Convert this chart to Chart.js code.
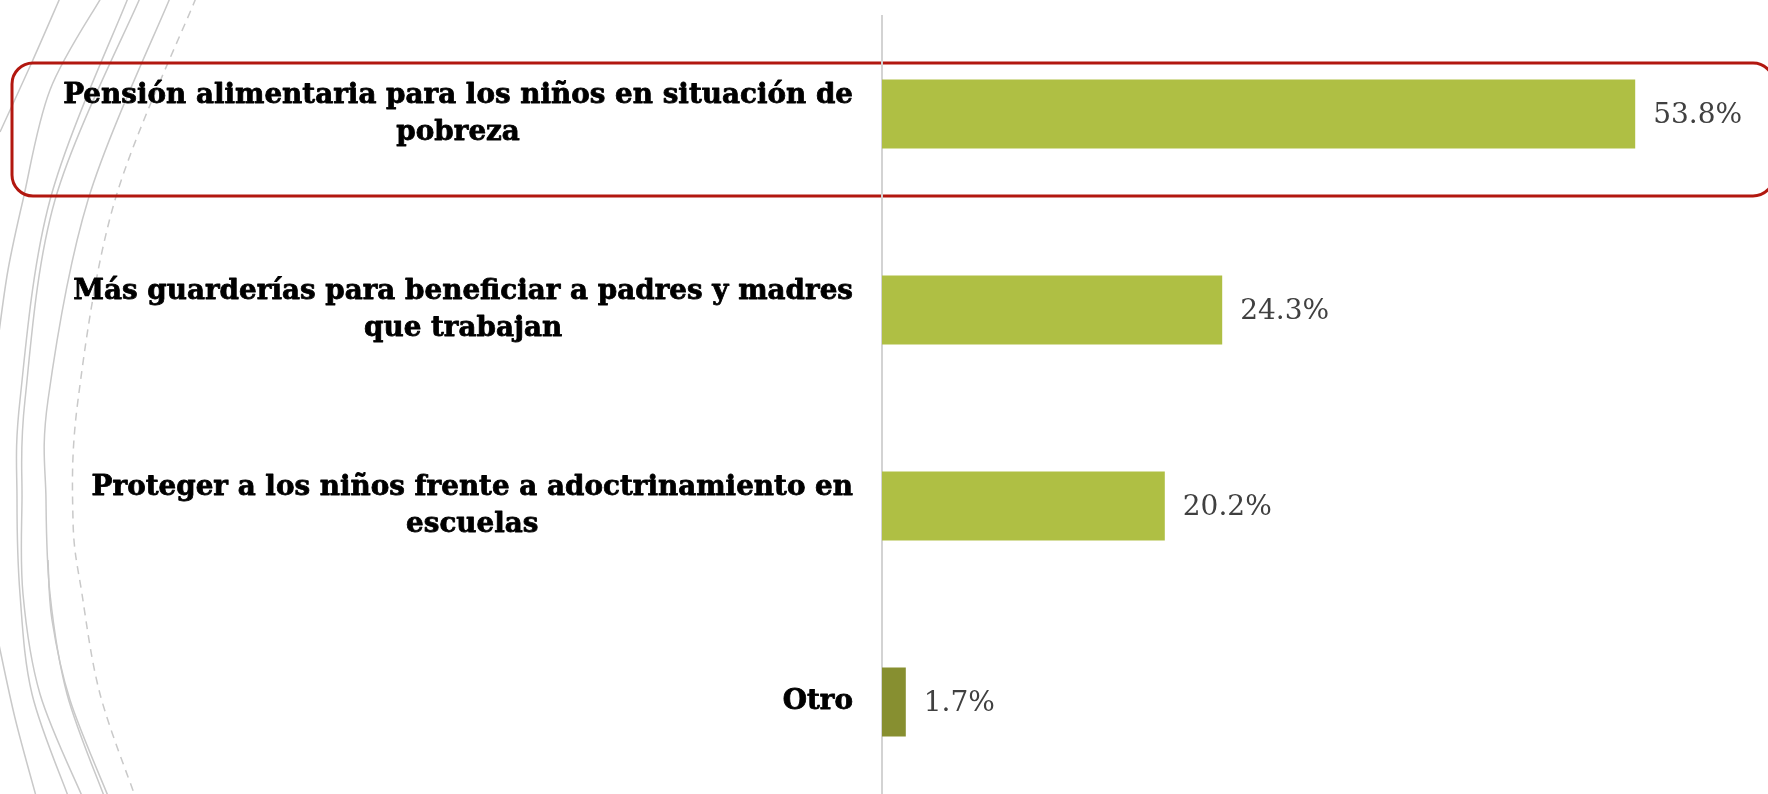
<!DOCTYPE html>
<html>
<head>
<meta charset="utf-8">
<script src="https://cdn.jsdelivr.net/npm/chart.js@4/dist/chart.umd.min.js"></script>
<style>
  html, body { margin: 0; padding: 0; background: #fff; overflow: hidden; }
  #wrap { width: 1768px; height: 800px; position: relative; }
</style>
</head>
<body>
<div id="wrap"><canvas id="myChart"></canvas></div>
<script>
// categories (already wrapped the way the slide wraps them)
const categories = [
  ["Pensión alimentaria para los niños en situación de", "pobreza"],
  ["Más guarderías para beneficiar a padres y madres", "que trabajan"],
  ["Proteger a los niños frente a adoctrinamiento en", "escuelas"],
  ["Otro"]
];
const values = [53.8, 24.3, 20.2, 1.7];
const valueLabels = ["53.8%", "24.3%", "20.2%", "1.7%"];
const highlighted = [0];   // row framed in red

// smooth line through points (catmull-rom)
function smoothPath(ctx, pts) {
  ctx.moveTo(pts[0][0], pts[0][1]);
  for (let i = 0; i < pts.length - 1; i++) {
    const p0 = pts[i - 1] || pts[i], p1 = pts[i], p2 = pts[i + 1], p3 = pts[i + 2] || p2;
    ctx.bezierCurveTo(
      p1[0] + (p2[0] - p0[0]) / 6, p1[1] + (p2[1] - p0[1]) / 6,
      p2[0] - (p3[0] - p1[0]) / 6, p2[1] - (p3[1] - p1[1]) / 6,
      p2[0], p2[1]);
  }
}

// background swirl lines of the slide theme
const swirls = [
  {dash: false, pts: [[60,-2],[32,62],[0,132]]},
  {dash: false, pts: [[101,-2],[50,90],[23,200],[8,270],[-2,340]]},
  {dash: false, pts: [[128,-2],[50,200],[20,400],[17,500],[20,594],[32,694],[68,796]]},
  {dash: false, pts: [[140,-2],[55,200],[25,400],[22,500],[23,594],[40,694],[82,796]]},
  {dash: false, pts: [[170,-2],[88,200],[48,400],[46,500],[50,594],[67,694],[104,796]]},
  {dash: false, pts: [[48,560],[52,620],[70,700],[108,796]]},
  {dash: true,  pts: [[196,-2],[115,200],[78,400],[73,520],[82,594],[100,694],[135,796]]},
  {dash: false, pts: [[-2,640],[15,718],[36,796]]}
];

const decor = {
  id: 'decor',
  beforeDraw(chart) {
    const ctx = chart.ctx;
    const y = chart.scales.y;
    ctx.save();
    ctx.strokeStyle = '#C9C9C9';
    ctx.lineWidth = 1.5;
    swirls.forEach(s => {
      ctx.beginPath();
      ctx.setLineDash(s.dash ? [8, 6] : []);
      smoothPath(ctx, s.pts);
      ctx.stroke();
    });
    ctx.setLineDash([]);
    // red frame round highlighted row
    ctx.strokeStyle = '#B2170F';
    ctx.lineWidth = 3;
    highlighted.forEach(i => {
      const cy = y.getPixelForValue(i);
      ctx.beginPath();
      ctx.roundRect(12, cy - 51, 1762, 133, 21);
      ctx.stroke();
    });
    ctx.restore();
  },
  afterDraw(chart) {
    const ctx = chart.ctx;
    const x = chart.scales.x;
    const y = chart.scales.y;
    ctx.save();
    // category labels: block right aligned, lines centred inside block
    ctx.font = 'bold 27.8px "DejaVu Serif"';
    ctx.fillStyle = '#000';
    ctx.strokeStyle = '#000';
    ctx.lineWidth = 0.8;
    ctx.lineJoin = 'round';
    ctx.textBaseline = 'middle';
    ctx.textAlign = 'center';
    const lh = 37;
    const right = chart.chartArea.left - 29;
    categories.forEach((lines, i) => {
      const w = Math.max(...lines.map(l => ctx.measureText(l).width));
      const cx = right - w / 2;
      const cy = y.getPixelForValue(i);
      lines.forEach((l, k) => {
        const ly = cy + (k - (lines.length - 1) / 2) * lh;
        ctx.fillText(l, cx, ly);
        ctx.strokeText(l, cx, ly);
      });
    });
    // value labels
    ctx.font = '28px "DejaVu Serif"';
    ctx.fillStyle = '#404040';
    ctx.textAlign = 'left';
    values.forEach((v, i) => {
      ctx.fillText(valueLabels[i], x.getPixelForValue(v) + 18, y.getPixelForValue(i) + 2);
    });
    ctx.restore();
  }
};

const ctx = document.getElementById('myChart');
new Chart(ctx, {
  type: 'bar',
  data: {
    labels: categories,
    datasets: [{
      data: values,
      backgroundColor: ['#AFBF44', '#AFBF44', '#AFBF44', '#878F30'],
      categoryPercentage: 1,
      barPercentage: 0.352
    }]
  },
  options: {
    indexAxis: 'y',
    responsive: true,
    maintainAspectRatio: false,
    animation: false,
    layout: { padding: { left: 874, right: 4, top: 16, bottom: 0 } },
    plugins: { legend: { display: false }, tooltip: { enabled: false } },
    scales: {
      x: { display: false, min: 0, max: 63 },
      y: {
        ticks: { display: false },
        grid: { display: false },
        border: { display: true, color: '#D3D3D3', width: 2 }
      }
    }
  },
  plugins: [decor]
});
</script>
</body>
</html>
